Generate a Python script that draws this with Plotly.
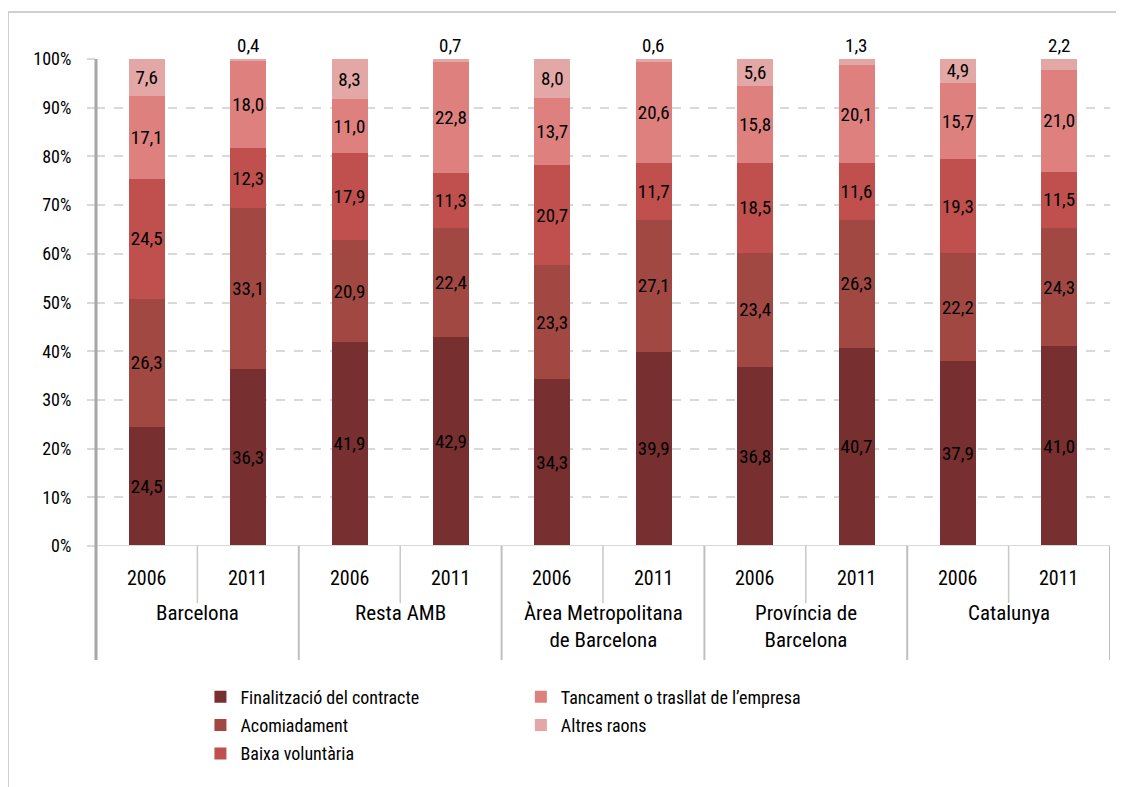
import plotly.graph_objects as go

groups = ["Barcelona", "Resta AMB", "Àrea Metropolitana<br>de Barcelona", "Província de<br>Barcelona", "Catalunya"]
years = ["2006", "2011"]

series_names = ["Finalització del contracte", "Acomiadament", "Baixa voluntària",
                "Tancament o trasllat de l’empresa", "Altres raons"]
finalitzacio = [24.5, 36.3, 41.9, 42.9, 34.3, 39.9, 36.8, 40.7, 37.9, 41.0]
acomiadament = [26.3, 33.1, 20.9, 22.4, 23.3, 27.1, 23.4, 26.3, 22.2, 24.3]
baixa = [24.5, 12.3, 17.9, 11.3, 20.7, 11.7, 18.5, 11.6, 19.3, 11.5]
tancament = [17.1, 18.0, 11.0, 22.8, 13.7, 20.6, 15.8, 20.1, 15.7, 21.0]
altres = [7.6, 0.4, 8.3, 0.7, 8.0, 0.6, 5.6, 1.3, 4.9, 2.2]
series_values = [finalitzacio, acomiadament, baixa, tancament, altres]
colors = ["#772F2F", "#A24843", "#C0504D", "#DE807E", "#E3A8A6"]
y_ticks = [0, 10, 20, 30, 40, 50, 60, 70, 80, 90, 100]

FONT = "Liberation Sans Narrow, Arial Narrow, Roboto Condensed, DejaVu Sans Condensed, sans-serif"

n = len(groups) * len(years)
xs = list(range(n))


def fmt(v):
    return f"{v:.1f}".replace(".", ",")


fig = go.Figure()
legend_of = ["legend", "legend", "legend", "legend2", "legend2"]
small_labels = []
for i, (name, vals, col) in enumerate(zip(series_names, series_values, colors)):
    if i == len(series_names) - 1:
        texts = [fmt(v) if v >= 3 else "" for v in vals]
        small_labels = [(k, v) for k, v in enumerate(vals) if v < 3]
    else:
        texts = [fmt(v) for v in vals]
    fig.add_trace(go.Bar(
        x=xs, y=vals, name=name, marker=dict(color=col, line=dict(width=0)),
        width=0.355, text=texts, textposition="inside", insidetextanchor="middle",
        textangle=0, constraintext="none",
        textfont=dict(family=FONT, size=19, color="black"),
        hoverinfo="skip", legend=legend_of[i], legendgroup=str(i),
    ))

fig.update_layout(
    barmode="stack",
    width=1116, height=779,
    margin=dict(l=88, r=14, t=51, b=241),
    plot_bgcolor="white", paper_bgcolor="white",
    font=dict(family=FONT, size=18, color="black"),
    showlegend=True,
    legend=dict(x=0.103, y=-0.272, xanchor="left", yanchor="top", orientation="v",
                traceorder="grouped", tracegroupgap=2,
                font=dict(family=FONT, size=18, color="black"), bgcolor="rgba(0,0,0,0)"),
    legend2=dict(x=0.419, y=-0.272, xanchor="left", yanchor="top", orientation="v",
                 traceorder="grouped", tracegroupgap=2,
                 font=dict(family=FONT, size=18, color="black"), bgcolor="rgba(0,0,0,0)"),
)
fig.update_xaxes(range=[-0.5, n - 0.5], showticklabels=False, showgrid=False,
                 zeroline=False, showline=False, fixedrange=True)
fig.update_yaxes(range=[0, 100], tickvals=y_ticks, ticktext=[f"{t}%" for t in y_ticks],
                 showgrid=True, gridcolor="#D9D9D9", gridwidth=2, griddash="dash",
                 zeroline=False, showline=False, ticks="outside", ticklen=8,
                 tickcolor="#D9D9D9", tickwidth=2, ticklabelstandoff=12,
                 tickfont=dict(family=FONT, size=18, color="black"))

shapes = []
# outer frame
shapes.append(dict(type="rect", xref="paper", yref="paper", x0=-0.0868, x1=1.05, y0=-0.6, y1=1.0965,
                   line=dict(color="#D0D0D0", width=2), fillcolor="rgba(0,0,0,0)", layer="below"))
# baseline
shapes.append(dict(type="line", xref="paper", yref="y", x0=-0.008, x1=1.0, y0=0, y1=0,
                   line=dict(color="#D9D9D9", width=2)))
# group separators (long)
for g in range(len(groups) + 1):
    xv = g * 2 - 0.5
    shapes.append(dict(type="line", xref="x", yref="paper", x0=xv, x1=xv, y0=0, y1=-0.234,
                       line=dict(color="#BFBFBF", width=2)))
# year separators (short)
for g in range(len(groups)):
    xv = g * 2 + 0.5
    shapes.append(dict(type="line", xref="x", yref="paper", x0=xv, x1=xv, y0=0, y1=-0.117,
                       line=dict(color="#C8C8C8", width=1.5)))
# y axis line
shapes.append(dict(type="line", xref="paper", yref="paper", x0=0, x1=0, y0=1.0, y1=-0.234,
                   line=dict(color="#A6A6A6", width=3)))
fig.update_layout(shapes=shapes)

annotations = []
for i in range(n):
    annotations.append(dict(x=i, y=-0.066, xref="x", yref="paper", text=years[i % 2],
                            showarrow=False, xanchor="center", yanchor="middle",
                            font=dict(family=FONT, size=20, color="black")))
for g, label in enumerate(groups):
    annotations.append(dict(x=g * 2 + 0.5, y=-0.108, xref="x", yref="paper", text=label,
                            showarrow=False, xanchor="center", yanchor="top",
                            font=dict(family=FONT, size=21, color="black")))
for k, v in small_labels:
    total = min(100, sum(s[k] for s in series_values))
    annotations.append(dict(x=k, y=total, xref="x", yref="y", text=fmt(v),
                            showarrow=False, xanchor="center", yanchor="bottom", yshift=0,
                            font=dict(family=FONT, size=19, color="black")))
fig.update_layout(annotations=annotations)

fig.write_html("out.html")
